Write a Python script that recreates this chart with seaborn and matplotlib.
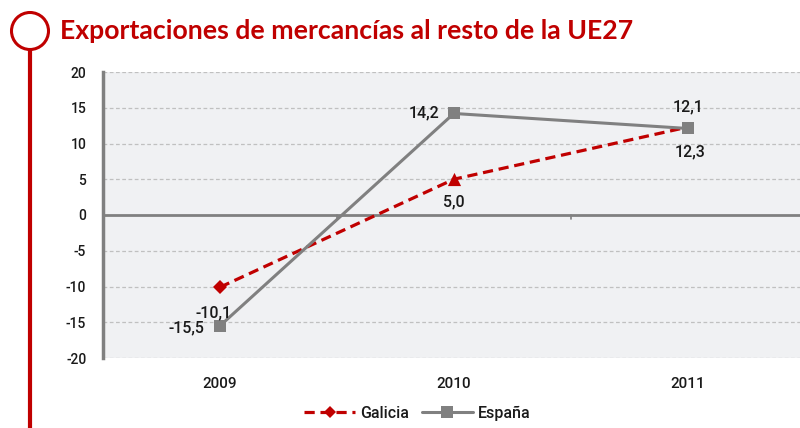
import matplotlib
matplotlib.use("Agg")
import matplotlib.pyplot as plt
import seaborn as sns
import pandas as pd
from matplotlib.patches import Circle
from matplotlib.lines import Line2D

years = ["2009", "2010", "2011"]
galicia = [-10.1, 5.0, 12.3]
espana = [-15.5, 14.2, 12.1]
galicia_labels = ["-10,1", "5,0", "12,3"]
espana_labels = ["-15,5", "14,2", "12,1"]
yticks = [-20, -15, -10, -5, 0, 5, 10, 15, 20]
title = "Exportaciones de mercancías al resto de la UE27"

sns.set_style("white")
plt.rcParams["font.family"] = ["Roboto", "DejaVu Sans"]
plt.rcParams["font.weight"] = 500

RED = "#c00000"
GRAY = "#808080"
TXT = "#1a1a1a"

fig = plt.figure(figsize=(8, 4.28), dpi=100)
ax = fig.add_axes([103 / 800, 70 / 428, 1 - 103 / 800, (358 - 72) / 428])
ax.set_facecolor("#f0f1f3")

x = list(range(len(years)))
df = pd.DataFrame({"x": x + x,
                   "v": galicia + espana,
                   "s": ["Galicia"] * 3 + ["España"] * 3})

sns.lineplot(data=df[df.s == "Galicia"], x="x", y="v", ax=ax, color=RED,
             lw=2.3, linestyle=(0, (3.2, 1.8)), marker="D", markersize=7,
             markeredgewidth=0, markevery=[0], zorder=3)
sns.scatterplot(x=[x[1]], y=[galicia[1]], ax=ax, color=RED, marker="^",
                s=90, linewidth=0, zorder=4)
sns.lineplot(data=df[df.s == "España"], x="x", y="v", ax=ax, color=GRAY,
             lw=2.2, marker="s", markersize=9, markeredgewidth=0, zorder=5)

ax.set_xlim(-0.5, 2.48)
ax.set_ylim(-20, 20)
ax.set_yticks(yticks)
ax.set_yticklabels([str(t) for t in yticks], fontsize=10, color=TXT)
ax.set_xticks(x)
ax.set_xticklabels(years, fontsize=11, color=TXT)
ax.tick_params(axis="x", length=0, pad=14)
ax.tick_params(axis="y", length=4, width=1.5, color=GRAY, pad=8)
ax.set_xlabel("")
ax.set_ylabel("")
for t in yticks:
    if t != 0:
        ax.axhline(t, color="#c0c0c0", lw=0.9, ls=(0, (3, 2)), zorder=1)
ax.axhline(0, color=GRAY, lw=2, zorder=2)
for xm in (0.5, 1.5):
    ax.plot([xm, xm], [0, -0.6], color=GRAY, lw=1.2, zorder=2)
for s in ["top", "right", "bottom"]:
    ax.spines[s].set_visible(False)
ax.spines["left"].set_color(GRAY)
ax.spines["left"].set_linewidth(2.5)
ax.spines["left"].set_zorder(6)

lab_kw = dict(textcoords="offset pixels", fontsize=11.5, color=TXT,
              ha="center", va="center", zorder=7)
g_off = [(-6, -26), (0, -23), (2, -25)]
e_off = [(-34, -2), (-30, 1), (0, 22)]
for i in x:
    ax.annotate(galicia_labels[i], (x[i], galicia[i]), xytext=g_off[i], **lab_kw)
    ax.annotate(espana_labels[i], (x[i], espana[i]), xytext=e_off[i], **lab_kw)

handles = [Line2D([], [], color=RED, lw=2.3, ls=(0, (3.2, 1.8)), marker="D",
                  markersize=6, markeredgewidth=0),
           Line2D([], [], color=GRAY, lw=2.2, marker="s", markersize=8,
                  markeredgewidth=0)]
leg = fig.legend(handles, ["Galicia", "España"], loc="center",
                 bbox_to_anchor=(417 / 800, 1 - 413 / 428), ncol=2, frameon=False,
                 fontsize=11.5, handlelength=3.2, handletextpad=0.3,
                 columnspacing=0.8)
for tx in leg.get_texts():
    tx.set_color(TXT)

fig.patches.append(Circle((30, 428 - 31), 18.5, transform=None, fill=False,
                          edgecolor=RED, lw=2.2))
fig.lines.append(Line2D([30, 30], [0, 428 - 50], transform=None, color=RED, lw=3))

t = fig.text(60 / 800, 1 - 31 / 428, title, color=RED, fontweight="bold",
             fontsize=19, family=["Lato", "DejaVu Sans"], ha="left", va="center")
fig.canvas.draw()
w = t.get_window_extent().width
t.set_fontsize(19 * 572 / w)

fig.savefig("out.png", dpi=100)
